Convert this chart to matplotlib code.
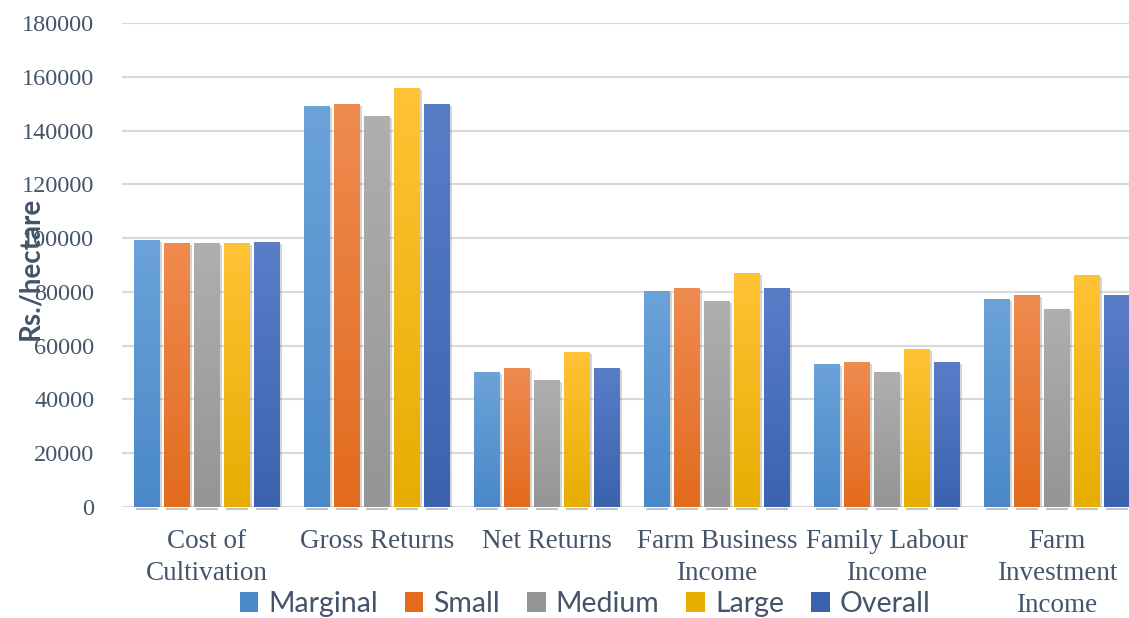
import numpy as np
import matplotlib.pyplot as plt
from matplotlib.colors import LinearSegmentedColormap
from matplotlib.patches import Patch
import matplotlib.patheffects as pe

categories = ["Cost of\nCultivation", "Gross Returns", "Net Returns",
              "Farm Business\nIncome", "Family Labour\nIncome", "Farm\nInvestment\nIncome"]
series = ["Marginal", "Small", "Medium", "Large", "Overall"]

marginal = [99300, 149100, 50200, 80300, 53200, 77300]
small = [98200, 149900, 51700, 81400, 53900, 78800]
medium = [98200, 145400, 47200, 76600, 50200, 73600]
large = [98200, 155800, 57600, 87000, 58800, 86300]
overall = [98500, 149900, 51700, 81400, 53900, 78800]
values = [marginal, small, medium, large, overall]

# (top, bottom) colours of each series' gradient fill
grad_colors = [("#6BA3D9", "#4A88C8"),
               ("#EF8B50", "#E26B1E"),
               ("#AFAFAF", "#959595"),
               ("#FFC336", "#E7AD00"),
               ("#5A7DC8", "#3B63AD")]

TEXT_COLOR = "#44546A"

fig = plt.figure(figsize=(11.29, 6.18), dpi=100)
ax = fig.add_axes([122 / 1129, 1 - 507 / 618, 1020 / 1129, 484 / 618])

x = np.arange(len(categories))
step = 0.177
width = 0.152
grad = np.linspace(0, 1, 256).reshape(-1, 1)

for i, (name, vals, (top, bottom)) in enumerate(zip(series, values, grad_colors)):
    pos = x + (i - 2) * step
    bars = ax.bar(pos, vals, width, color=bottom, zorder=2,
                  path_effects=[pe.SimplePatchShadow(offset=(1.5, -1.5), shadow_rgbFace="#888888", alpha=0.35),
                                pe.Normal()])
    cmap = LinearSegmentedColormap.from_list(name, [bottom, top])
    for b in bars:
        x0, w, h = b.get_x(), b.get_width(), b.get_height()
        im = ax.imshow(grad, extent=[x0, x0 + w, 0, h], origin="lower",
                       aspect="auto", cmap=cmap, zorder=3)
        im.set_clip_path(b)
        # thin shadow strip under the bar base
        ax.plot([x0 + 0.01, x0 + w - 0.01], [-900, -900], color="#9a9a9a",
                lw=1.5, alpha=0.6, zorder=1, clip_on=False, solid_capstyle="butt")

ax.set_xlim(-0.5, 5.5)
ax.set_ylim(0, 180000)
ax.set_yticks(np.arange(0, 180001, 20000))
ax.grid(axis="y", color="#D9D9D9", lw=1.5, zorder=0)
ax.set_axisbelow(True)
for s in ax.spines.values():
    s.set_visible(False)

ax.tick_params(axis="y", length=0, pad=20, labelsize=17.5, labelcolor=TEXT_COLOR)
ax.tick_params(axis="x", length=0, pad=16)
for lab in ax.get_yticklabels():
    lab.set_family("Liberation Serif")

ax.set_xticks(x)
ax.set_xticklabels(categories, fontsize=19.5, family="Liberation Serif",
                   color=TEXT_COLOR, linespacing=1.35, va="top")

fig.text(0.027, 1 - 268 / 618, "Rs./hectare", rotation=90, ha="center", va="center",
         fontsize=20, fontweight="bold", family="Lato", color=TEXT_COLOR)

handles = [Patch(facecolor=c[1], edgecolor="none") for c in grad_colors]
leg = fig.legend(handles, series, loc="center", bbox_to_anchor=(585 / 1129, 1 - 604 / 618),
                 ncol=5, frameon=False, handlelength=0.65, handleheight=0.65,
                 handletextpad=0.35, columnspacing=0.95,
                 prop={"family": "Lato", "size": 20.5})
for t in leg.get_texts():
    t.set_color(TEXT_COLOR)

fig.savefig("out.png", dpi=100)
